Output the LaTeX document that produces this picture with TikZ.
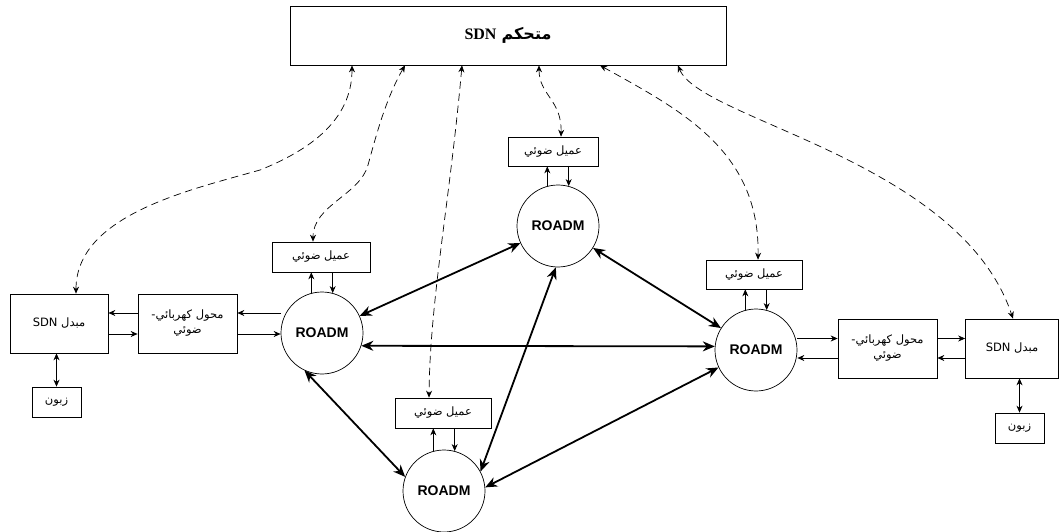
\documentclass[tikz,border=0pt]{standalone}
\usepackage{fontspec}
\usepackage{tikz}
\usetikzlibrary{arrows.meta}
\setsansfont{Liberation Sans}
\newfontfamily\arabicfont[Script=Arabic]{DejaVu Sans}
\newfontfamily\serifbold{Liberation Serif}
\TeXXeTstate=1

\begin{document}
\begin{tikzpicture}[x=1pt,y=-1pt,>={Stealth[length=7pt,width=6pt]},line cap=round,
  box/.style={draw,line width=0.7pt,inner sep=0pt,align=center,font=\arabicfont\fontsize{11.5}{15}\selectfont},
  roadm/.style={draw,circle,line width=0.7pt,minimum size=82pt,inner sep=0pt,font=\sffamily\bfseries\fontsize{14}{16}\selectfont},
  sig/.style={->,line width=0.7pt},
  dsig/.style={<->,line width=0.7pt},
  link/.style={{Stealth[length=12pt,width=10pt]}-{Stealth[length=12pt,width=10pt]},line width=1.8pt},
  ctl/.style={<->,line width=0.7pt,dash pattern=on 7pt off 5pt}]
\useasboundingbox (0,0) rectangle (1061,532);
\node[box,minimum width=436pt,minimum height=59pt] (ctrl) at (508,35.5)
  {\fontsize{16}{18}\selectfont\beginR{\bfseries متحكم} {\serifbold\bfseries SDN}\endR};
\node[box,minimum width=98pt,minimum height=59pt] (swL) at (59,323.5) {\beginR مبدل SDN\endR};
\node[box,minimum width=99pt,minimum height=59pt] (convL) at (187.5,323.5) {\beginR محول كهربائي-\endR\\\beginR ضوئي\endR};
\node[box,minimum width=49pt,minimum height=30pt] (cliL) at (56.5,402) {\beginR زبون\endR};
\node[roadm] (rL) at (322,333) {ROADM};
\node[box,minimum width=98pt,minimum height=30pt] (ocL) at (321,257) {\beginR عميل ضوئي\endR};
\node[roadm] (rT) at (558,226) {ROADM};
\node[box,minimum width=90pt,minimum height=29pt] (ocT) at (553,151.5) {\beginR عميل ضوئي\endR};
\node[roadm] (rR) at (756,350) {ROADM};
\node[box,minimum width=96pt,minimum height=29pt] (ocR) at (754,274.5) {\beginR عميل ضوئي\endR};
\node[box,minimum width=99pt,minimum height=59pt] (convR) at (887.5,348.5) {\beginR محول كهربائي-\endR\\\beginR ضوئي\endR};
\node[box,minimum width=93pt,minimum height=59pt] (swR) at (1012,348.5) {\beginR مبدل SDN\endR};
\node[box,minimum width=49pt,minimum height=30pt] (cliR) at (1019.5,428) {\beginR زبون\endR};
\node[roadm] (rB) at (444,491) {ROADM};
\node[box,minimum width=96pt,minimum height=30pt] (ocB) at (443,413) {\beginR عميل ضوئي\endR};
\draw[link] (rL) -- (rT);
\draw[link] (rL.-18) -- (rR.175);
\draw[link] (rL.-115) -- (rB.160);
\draw[link] (rT) -- (rR);
\draw[link] (rT.-93) -- (rB.28);
\draw[link] (rB.5) -- (rR.-155);
\foreach \r/\c in {rL/ocL,rT/ocT,rR/ocR,rB/ocB}{
  \draw[sig] (\r.105) -- (\r.105 |- \c.south);
  \draw[sig] (\r.75 |- \c.south) -- (\r.75);
}
\coordinate (lu) at ([yshift=10.5pt]convL.east);
\coordinate (ld) at ([yshift=-10.5pt]convL.east);
\draw[sig] (lu -| rL.west) -- (lu);
\draw[sig] (ld) -- (ld -| rL.west);
\draw[sig] ([yshift=10.5pt]convL.west) -- ([yshift=10.5pt]swL.east);
\draw[sig] ([yshift=-10.5pt]swL.east) -- ([yshift=-10.5pt]convL.west);
\coordinate (ru) at ([yshift=10pt]convR.west);
\coordinate (rd) at ([yshift=-9.5pt]convR.west);
\draw[sig] (ru -| rR.east) -- (ru);
\draw[sig] (rd) -- (rd -| rR.east);
\draw[sig] ([yshift=10pt]convR.east) -- ([yshift=10pt]swR.west);
\draw[sig] ([yshift=-9.5pt]swR.west) -- ([yshift=-9.5pt]convR.east);
\draw[dsig] (cliL.north |- swL.south) -- (cliL.north);
\draw[dsig] (cliR.north |- swR.south) -- (cliR.north);
\draw[ctl] ([xshift=-156pt]ctrl.south) .. controls (352,120) and (310,150) .. (260,170)
  .. controls (190,190) and (76,215) .. ([xshift=17pt]swL.north);
\draw[ctl] ([xshift=-103pt]ctrl.south) .. controls (385,100) and (375,140) .. (368,165)
  .. controls (360,195) and (313,205) .. ([xshift=-8pt]ocL.north);
\draw[ctl] ([xshift=-46pt]ctrl.south) .. controls (450,200) and (430,300) .. ([xshift=-14pt]ocB.north);
\draw[ctl] ([xshift=31pt]ctrl.south) .. controls (539,95) and (562,100) .. ([xshift=8pt]ocT.north);
\draw[ctl] ([xshift=92pt]ctrl.south) .. controls (680,110) and (760,150) .. ([xshift=4pt]ocR.north);
\draw[ctl] ([xshift=170pt]ctrl.south) .. controls (700,120) and (960,160) .. ([xshift=1pt]swR.north);
\end{tikzpicture}
\end{document}
